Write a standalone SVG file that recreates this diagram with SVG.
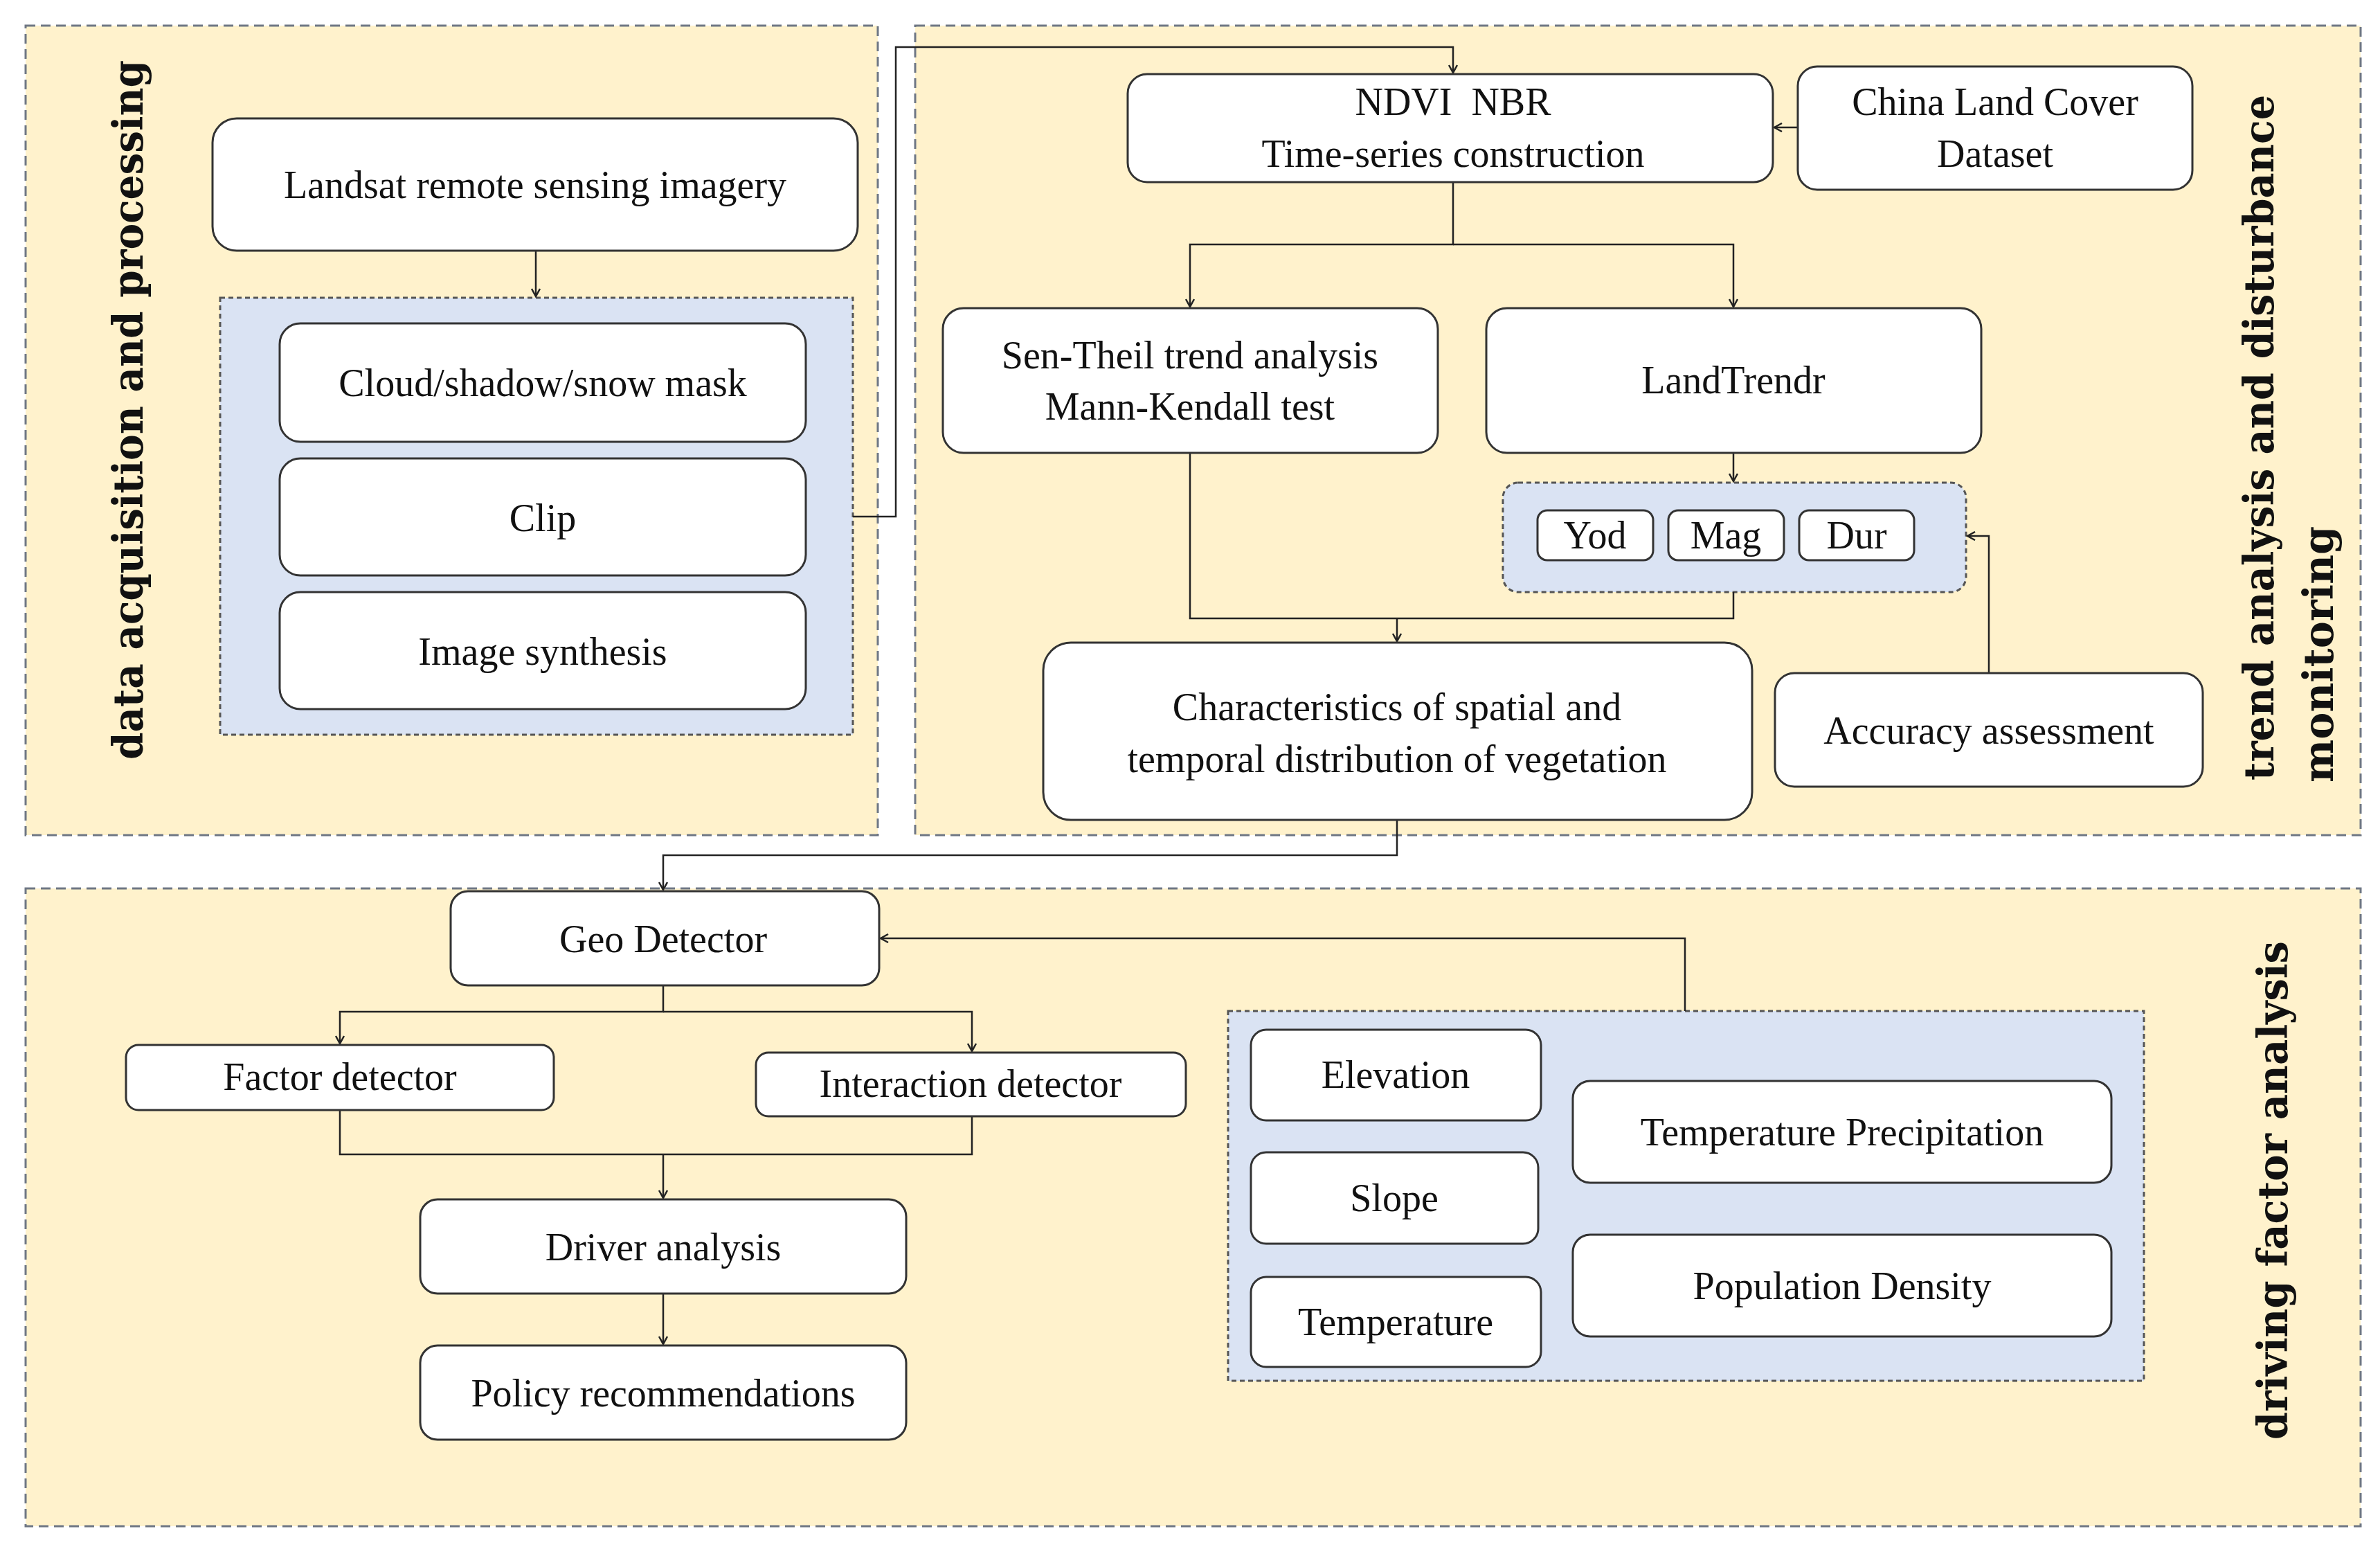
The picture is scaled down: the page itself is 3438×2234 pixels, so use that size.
<svg xmlns="http://www.w3.org/2000/svg" width="3438" height="2234" viewBox="0 0 3438 2234">
<defs>
<marker id="ah" markerWidth="14" markerHeight="14" refX="12" refY="7" orient="auto" markerUnits="userSpaceOnUse"><path d="M1,1 L12,7 L1,13" fill="none" stroke="#222" stroke-width="2.5"/></marker>
</defs>
<style>
.panel{fill:#FFF2CC;stroke:#6f7784;stroke-width:3;stroke-dasharray:14 8}
.grp{fill:#DAE3F3;stroke:#555;stroke-width:3;stroke-dasharray:7 5}
.n{fill:#fff;stroke:#333;stroke-width:3}
.t{font-family:"Liberation Serif",serif;font-size:56px;fill:#111;text-anchor:middle}
.h{font-family:"DejaVu Serif",serif;font-weight:bold;font-size:60px;fill:#111;text-anchor:middle}
.c{fill:none;stroke:#222;stroke-width:2.5}
</style>
<rect width="3438" height="2234" fill="#fff"/>
<g id="panels">
<rect class="panel" x="37" y="37" width="1231" height="1169"/>
<rect class="panel" x="1322" y="37" width="2088" height="1169"/>
<rect class="panel" x="37" y="1283" width="3373" height="921"/>
<text class="h" transform="translate(206,592) rotate(-90)" textLength="1010" lengthAdjust="spacingAndGlyphs">data acquisition and processing</text>
<text class="h" transform="translate(3284,632) rotate(-90)" textLength="990" lengthAdjust="spacingAndGlyphs">trend analysis and disturbance</text>
<text class="h" transform="translate(3370,945) rotate(-90)" textLength="370" lengthAdjust="spacingAndGlyphs">monitoring</text>
<text class="h" transform="translate(3304,1719) rotate(-90)" textLength="720" lengthAdjust="spacingAndGlyphs">driving factor analysis</text>
</g>
<g id="groups">
<rect class="grp" x="318" y="430" width="914" height="631"/>
<rect class="grp" x="2171" y="697" width="669" height="158" rx="22"/>
<rect class="grp" x="1774" y="1460" width="1323" height="534"/>
</g>
<g id="connectors">
<path class="c" d="M774,362 V428" marker-end="url(#ah)"/>
<path class="c" d="M1232,746 H1294 V68 H2099 V105" marker-end="url(#ah)"/>
<path class="c" d="M2597,184 H2563" marker-end="url(#ah)"/>
<path class="c" d="M2099,263 V353 H1719 V443" marker-end="url(#ah)"/>
<path class="c" d="M2099,353 H2504 V443" marker-end="url(#ah)"/>
<path class="c" d="M2504,654 V695" marker-end="url(#ah)"/>
<path class="c" d="M1719,654 V893 H2504 V855"/>
<path class="c" d="M2018,893 V926" marker-end="url(#ah)"/>
<path class="c" d="M2873,972 V774 H2842" marker-end="url(#ah)"/>
<path class="c" d="M2018,1184 V1235 H958 V1285" marker-end="url(#ah)"/>
<path class="c" d="M2434,1460 V1355 H1272" marker-end="url(#ah)"/>
<path class="c" d="M958,1423 V1461 H491 V1507" marker-end="url(#ah)"/>
<path class="c" d="M958,1461 H1404 V1518" marker-end="url(#ah)"/>
<path class="c" d="M491,1603 V1667 H1404 V1612"/>
<path class="c" d="M958,1667 V1730" marker-end="url(#ah)"/>
<path class="c" d="M958,1868 V1941" marker-end="url(#ah)"/>
</g>
<g id="landsat"><rect class="n" x="307" y="171" width="932" height="191" rx="35" stroke="#999"/><text class="t" x="773" y="286">Landsat remote sensing imagery</text></g>
<g id="cloud"><rect class="n" x="404" y="467" width="760" height="171" rx="30"/><text class="t" x="784" y="572">Cloud/shadow/snow mask</text></g>
<g id="clip"><rect class="n" x="404" y="662" width="760" height="169" rx="30"/><text class="t" x="784" y="767">Clip</text></g>
<g id="synth"><rect class="n" x="404" y="855" width="760" height="169" rx="30"/><text class="t" x="784" y="960">Image synthesis</text></g>
<g id="ndvi"><rect class="n" x="1629" y="107" width="932" height="156" rx="28"/><text class="t" x="2099" y="166" xml:space="preserve">NDVI  NBR</text><text class="t" x="2099" y="241">Time-series construction</text></g>
<g id="china"><rect class="n" x="2597" y="96" width="570" height="178" rx="28" stroke="#999"/><text class="t" x="2882" y="166">China Land Cover</text><text class="t" x="2882" y="241">Dataset</text></g>
<g id="sen"><rect class="n" x="1362" y="445" width="715" height="209" rx="30"/><text class="t" x="1719" y="532">Sen-Theil trend analysis</text><text class="t" x="1719" y="606">Mann-Kendall test</text></g>
<g id="landtrendr"><rect class="n" x="2147" y="445" width="715" height="209" rx="30"/><text class="t" x="2504" y="568">LandTrendr</text></g>
<g id="yod"><rect class="n" x="2221" y="737" width="167" height="72" rx="14"/><text class="t" x="2304" y="792">Yod</text></g>
<g id="mag"><rect class="n" x="2410" y="737" width="167" height="72" rx="14"/><text class="t" x="2493" y="792">Mag</text></g>
<g id="dur"><rect class="n" x="2599" y="737" width="166" height="72" rx="14"/><text class="t" x="2682" y="792">Dur</text></g>
<g id="char"><rect class="n" x="1507" y="928" width="1024" height="256" rx="40"/><text class="t" x="2018" y="1040">Characteristics of spatial and</text><text class="t" x="2018" y="1115">temporal distribution of vegetation</text></g>
<g id="accuracy"><rect class="n" x="2564" y="972" width="618" height="164" rx="28"/><text class="t" x="2873" y="1074">Accuracy assessment</text></g>
<g id="geo"><rect class="n" x="651" y="1287" width="619" height="136" rx="25"/><text class="t" x="958" y="1375">Geo Detector</text></g>
<g id="factor"><rect class="n" x="182" y="1509" width="618" height="94" rx="18"/><text class="t" x="491" y="1574">Factor detector</text></g>
<g id="interaction"><rect class="n" x="1092" y="1520" width="621" height="92" rx="18"/><text class="t" x="1402" y="1584">Interaction detector</text></g>
<g id="driver"><rect class="n" x="607" y="1732" width="702" height="136" rx="25"/><text class="t" x="958" y="1820">Driver analysis</text></g>
<g id="policy"><rect class="n" x="607" y="1943" width="702" height="136" rx="25"/><text class="t" x="958" y="2031">Policy recommendations</text></g>
<g id="elevation"><rect class="n" x="1807" y="1487" width="419" height="131" rx="22"/><text class="t" x="2016" y="1571">Elevation</text></g>
<g id="slope"><rect class="n" x="1807" y="1664" width="415" height="132" rx="22"/><text class="t" x="2014" y="1749">Slope</text></g>
<g id="temperature"><rect class="n" x="1807" y="1844" width="419" height="130" rx="22"/><text class="t" x="2016" y="1928">Temperature</text></g>
<g id="tempprecip"><rect class="n" x="2272" y="1561" width="778" height="147" rx="25"/><text class="t" x="2661" y="1654">Temperature Precipitation</text></g>
<g id="population"><rect class="n" x="2272" y="1783" width="778" height="147" rx="25"/><text class="t" x="2661" y="1876">Population Density</text></g>
</svg>
